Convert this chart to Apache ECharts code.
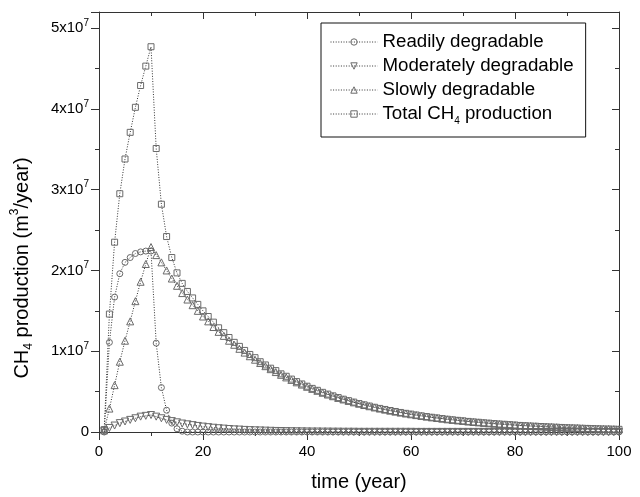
<!DOCTYPE html>
<html>
<head>
<meta charset="utf-8">
<script src="https://cdn.jsdelivr.net/npm/echarts@6/dist/echarts.min.js"></script>
<style>
html,body{margin:0;padding:0;background:#fff;}
#chart{width:640px;height:497px;}
</style>
</head>
<body>
<div id="chart"></div>
<script>
// time (year)
const years = [
  1,2,3,4,5,6,7,8,9,10,
  11,12,13,14,15,16,17,18,19,20,
  21,22,23,24,25,26,27,28,29,30,
  31,32,33,34,35,36,37,38,39,40,
  41,42,43,44,45,46,47,48,49,50,
  51,52,53,54,55,56,57,58,59,60,
  61,62,63,64,65,66,67,68,69,70,
  71,72,73,74,75,76,77,78,79,80,
  81,82,83,84,85,86,87,88,89,90,
  91,92,93,94,95,96,97,98,99,100
];
// CH4 production, in units of 10^7 m3/year
const readily = [
  0, 1.11, 1.67, 1.96, 2.10, 2.16, 2.21, 2.23, 2.24, 2.24,
  1.10, 0.55, 0.27, 0.11, 0.04, 0.01, 0, 0, 0, 0,
  0,0,0,0,0,0,0,0,0,0,
  0,0,0,0,0,0,0,0,0,0,
  0,0,0,0,0,0,0,0,0,0,
  0,0,0,0,0,0,0,0,0,0,
  0,0,0,0,0,0,0,0,0,0,
  0,0,0,0,0,0,0,0,0,0,
  0,0,0,0,0,0,0,0,0,0,
  0,0,0,0,0,0,0,0,0,0
];
const moderate = [
  0.01, 0.05, 0.08, 0.11, 0.13, 0.15, 0.17, 0.19, 0.20, 0.21,
  0.19, 0.17, 0.15, 0.135, 0.12, 0.105, 0.095, 0.085, 0.075, 0.067,
  0.060, 0.053, 0.047, 0.042, 0.037, 0.033, 0.030, 0.026, 0.023, 0.021,
  0.019, 0.017, 0.015, 0.013, 0.012, 0.011, 0.010, 0.009, 0.008, 0.007,
  0.006, 0.006, 0.005, 0.005, 0.004, 0.004, 0.003, 0.003, 0.003, 0.002,
  0.002, 0.002, 0.002, 0.002, 0.002, 0.002, 0.002, 0.002, 0.002, 0.002,
  0.001, 0.001, 0.001, 0.001, 0.001, 0.001, 0.001, 0.001, 0.001, 0.001,
  0.001, 0.001, 0.001, 0.001, 0.001, 0.001, 0.001, 0.001, 0.001, 0.001,
  0,0,0,0,0,0,0,0,0,0,
  0,0,0,0,0,0,0,0,0,0
];
const slowly = [
  0.02, 0.29, 0.58, 0.87, 1.13, 1.37, 1.62, 1.86, 2.08, 2.29,
  2.19, 2.10, 2.00, 1.90, 1.81, 1.72, 1.64, 1.57, 1.50, 1.43,
  1.37, 1.30, 1.24, 1.19, 1.13, 1.08, 1.03, 0.983, 0.938, 0.895,
  0.854, 0.815, 0.778, 0.742, 0.708, 0.676, 0.645, 0.615, 0.587, 0.560,
  0.534, 0.510, 0.486, 0.464, 0.443, 0.422, 0.403, 0.385, 0.367, 0.350,
  0.334, 0.319, 0.304, 0.290, 0.277, 0.264, 0.252, 0.240, 0.229, 0.219,
  0.209, 0.199, 0.190, 0.181, 0.173, 0.165, 0.157, 0.150, 0.143, 0.137,
  0.130, 0.124, 0.119, 0.113, 0.108, 0.103, 0.098, 0.094, 0.090, 0.085,
  0.081, 0.078, 0.074, 0.071, 0.068, 0.065, 0.062, 0.059, 0.056, 0.053,
  0.051, 0.049, 0.046, 0.044, 0.042, 0.040, 0.038, 0.037, 0.035, 0.033
];
const total = [
  0.03, 1.46, 2.35, 2.95, 3.38, 3.71, 4.02, 4.29, 4.53, 4.77,
  3.51, 2.82, 2.42, 2.16, 1.97, 1.84, 1.74, 1.66, 1.58, 1.50,
  1.43, 1.36, 1.29, 1.23, 1.17, 1.11, 1.06, 1.01, 0.96, 0.92,
  0.87, 0.83, 0.79, 0.76, 0.72, 0.69, 0.655, 0.624, 0.595, 0.567,
  0.540, 0.516, 0.491, 0.469, 0.447, 0.426, 0.406, 0.388, 0.370, 0.352,
  0.336, 0.321, 0.306, 0.292, 0.279, 0.266, 0.254, 0.242, 0.231, 0.221,
  0.210, 0.200, 0.191, 0.182, 0.174, 0.166, 0.158, 0.151, 0.144, 0.138,
  0.131, 0.125, 0.120, 0.114, 0.109, 0.104, 0.099, 0.095, 0.091, 0.086,
  0.081, 0.078, 0.074, 0.071, 0.068, 0.065, 0.062, 0.059, 0.056, 0.053,
  0.051, 0.049, 0.046, 0.044, 0.042, 0.040, 0.038, 0.037, 0.035, 0.033
];
const seriesNames = ['Readily degradable', 'Moderately degradable', 'Slowly degradable', 'Total CH4 production'];
const xTicks = [0, 20, 40, 60, 80, 100];
const yTicks = [0, 1, 2, 3, 4, 5];

const FONT = '"Liberation Sans", Arial, Helvetica, sans-serif';
const pairs = arr => years.map((t, i) => [t, arr[i]]);
const downTri = 'path://M0,0 L10,0 L5,9 Z';
const MARK = { color: 'rgba(255,255,255,0)', borderColor: '#6a6a6a', borderWidth: 1 };

function mkSeries(name, arr, symbol, size) {
  return {
    name: name, type: 'line', data: pairs(arr),
    symbol: symbol, symbolSize: size,
    showAllSymbol: true,
    lineStyle: { color: '#333', width: 1, type: [1, 1.6] },
    itemStyle: MARK,
    emphasis: { disabled: true },
    animation: false
  };
}

const chart = echarts.init(document.getElementById('chart'), null, { renderer: 'canvas' });
const tickY = v => yTicks.indexOf(v) >= 0;
chart.setOption({
  backgroundColor: '#fff',
  animation: false,
  textStyle: { fontFamily: FONT },
  grid: { left: 99, right: 21, top: 12, bottom: 64 },
  legend: {
    orient: 'vertical', left: 321, top: 23,
    backgroundColor: '#fff',
    borderColor: '#111', borderWidth: 1,
    padding: [7, 12, 11, 9],
    itemWidth: 47, itemHeight: 8, itemGap: 0,
    selectedMode: false,
    itemStyle: { color: 'rgba(255,255,255,0)', borderColor: '#6a6a6a', borderWidth: 1 },
    lineStyle: { color: '#333', width: 1, type: [1, 1.6] },
    data: seriesNames,
    formatter: n => n === 'Total CH4 production' ? '{b|Total CH}{s|4}{b| production}' : '{b|' + n + '}',
    textStyle: {
      color: '#000', fontFamily: FONT, lineHeight: 24,
      rich: {
        b: { fontSize: 18.7, lineHeight: 24, fontFamily: FONT, color: '#000' },
        s: { fontSize: 10, lineHeight: 12, verticalAlign: 'bottom', fontFamily: FONT, color: '#000' }
      }
    }
  },
  xAxis: [{
    type: 'value', min: 0, max: 100, interval: 20, position: 'bottom',
    name: 'time (year)', nameLocation: 'middle', nameGap: 40,
    nameTextStyle: { fontSize: 20, color: '#000', fontFamily: FONT },
    axisLine: { onZero: false, lineStyle: { color: '#333', width: 1 } },
    axisTick: { show: true, inside: false, length: 8, lineStyle: { color: '#333' } },
    minorTick: { show: true, splitNumber: 2, length: 4, lineStyle: { color: '#333' } },
    axisLabel: { fontSize: 15, color: '#000', margin: 12, fontFamily: FONT,
      formatter: v => xTicks.indexOf(v) >= 0 ? String(v) : '' },
    splitLine: { show: false }
  }, {
    type: 'value', min: 0, max: 100, interval: 20, position: 'top',
    axisLine: { onZero: false, lineStyle: { color: '#333', width: 1 } },
    axisTick: { show: true, inside: true, length: 7, lineStyle: { color: '#333' } },
    minorTick: { show: true, splitNumber: 2, length: 4, lineStyle: { color: '#333' } },
    axisLabel: { show: false }, splitLine: { show: false }
  }],
  yAxis: [{
    type: 'value', min: 0, max: 5.2, interval: 1, position: 'left',
    name: '{b|CH}{sub|4}{b| production (m}{sup|3}{b|/year)}',
    nameLocation: 'middle', nameGap: 64, nameRotate: 90,
    nameTextStyle: {
      color: '#000', fontFamily: FONT, padding: [0, 92, 0, 0],
      rich: {
        b: { fontSize: 20, lineHeight: 26, fontFamily: FONT, color: '#000' },
        sub: { fontSize: 12, lineHeight: 12, verticalAlign: 'bottom', fontFamily: FONT, color: '#000' },
        sup: { fontSize: 12, lineHeight: 12, verticalAlign: 'top', fontFamily: FONT, color: '#000' }
      }
    },
    axisLine: { onZero: false, lineStyle: { color: '#333', width: 1 } },
    axisTick: { show: true, inside: false, length: 8, lineStyle: { color: '#333' } },
    minorTick: { show: true, splitNumber: 2, length: 4, lineStyle: { color: '#333' } },
    axisLabel: {
      margin: 10, color: '#000', fontFamily: FONT,
      formatter: v => !tickY(v) ? '' : (v === 0 ? '{b|0}' : '{b|' + v + 'x10}{s|7}'),
      rich: {
        b: { fontSize: 15, lineHeight: 20, fontFamily: FONT, color: '#000' },
        s: { fontSize: 10, lineHeight: 10, verticalAlign: 'top', fontFamily: FONT, color: '#000' }
      }
    },
    splitLine: { show: false }
  }, {
    type: 'value', min: 0, max: 5.2, interval: 1, position: 'right',
    axisLine: { onZero: false, lineStyle: { color: '#333', width: 1 } },
    axisTick: { show: true, inside: true, length: 7, lineStyle: { color: '#333' } },
    minorTick: { show: true, splitNumber: 2, length: 4, lineStyle: { color: '#333' } },
    axisLabel: { show: false }, splitLine: { show: false }
  }],
  series: [
    mkSeries(seriesNames[0], readily, 'circle', 6),
    mkSeries(seriesNames[1], moderate, downTri, 7),
    mkSeries(seriesNames[2], slowly, 'triangle', 7),
    mkSeries(seriesNames[3], total, 'rect', 6)
  ]
});
</script>
</body>
</html>
